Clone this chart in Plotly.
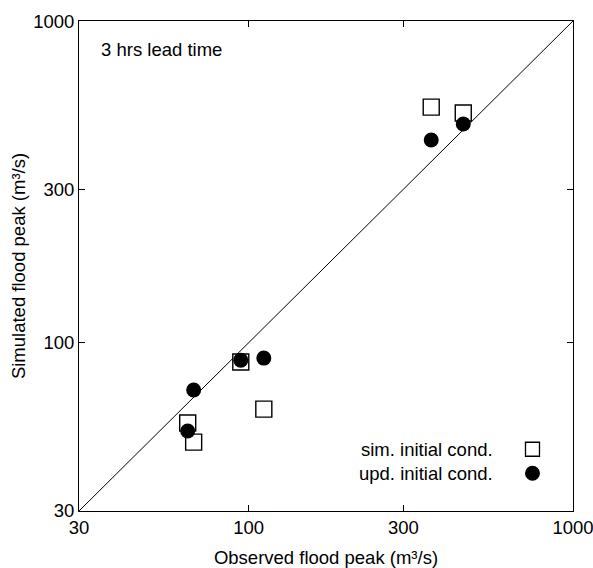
import plotly.graph_objects as go

# Observed vs simulated flood peaks (m³/s), 3 hrs lead time
observed = [365.6, 459, 94.6, 111.4, 64.9, 67.7]
sim_initial = [540, 517.6, 87.1, 62.2, 56.3, 49.1]
upd_initial = [426.7, 478.6, 88.3, 89.6, 53.2, 71.3]

axis_min, axis_max = 30, 1000
tick_vals = [30, 100, 300, 1000]
tick_text = ["30", "100", "300", "1000"]

FONT = "Liberation Sans, Arial, sans-serif"
FS = 18.5

fig = go.Figure()

# 1:1 reference line
fig.add_trace(go.Scatter(
    x=[axis_min, axis_max], y=[axis_min, axis_max], mode="lines",
    line=dict(color="black", width=1), showlegend=False, hoverinfo="skip"))

fig.add_trace(go.Scatter(
    x=observed, y=sim_initial, mode="markers", name="sim. initial cond.",
    marker=dict(symbol="square", size=16, color="white",
                line=dict(width=1.4, color="black")),
    showlegend=False))

fig.add_trace(go.Scatter(
    x=observed, y=upd_initial, mode="markers", name="upd. initial cond.",
    marker=dict(symbol="circle", size=15, color="black"),
    showlegend=False))

axis_common = dict(
    type="log", range=[1.4771, 3.0001], tickvals=tick_vals, ticktext=tick_text,
    ticks="inside", ticklen=6, tickcolor="black", mirror="ticks",
    showline=True, linecolor="black", linewidth=1, showgrid=False,
    zeroline=False, automargin=False, ticklabeloverflow="allow",
    tickfont=dict(family=FONT, size=FS, color="black"),
)

fig.update_xaxes(**axis_common,
                 title=dict(text="Observed flood peak (m³/s)",
                            font=dict(family=FONT, size=FS, color="black"),
                            standoff=14))
fig.update_yaxes(**axis_common,
                 title=dict(text="Simulated flood peak (m³/s)",
                            font=dict(family=FONT, size=FS, color="black"),
                            standoff=2))

# Inside-plot label
fig.add_annotation(x=0.040, y=0.941, xref="paper", yref="paper",
                   text="3 hrs lead time", showarrow=False,
                   xanchor="left", yanchor="middle",
                   font=dict(family=FONT, size=FS, color="black"))

# Legend drawn at lower right, glyphs to the right of the labels
legend_rows = [("sim. initial cond.", 0.126), ("upd. initial cond.", 0.077)]
for label, ypos in legend_rows:
    fig.add_annotation(x=0.842, y=ypos, xref="paper", yref="paper",
                       text=label, showarrow=False, xanchor="right",
                       yanchor="middle",
                       font=dict(family=FONT, size=FS, color="black"))

gx = 0.918
fig.add_shape(type="rect", xref="paper", yref="paper",
              xsizemode="pixel", ysizemode="pixel",
              xanchor=gx, yanchor=legend_rows[0][1],
              x0=-7, x1=7, y0=-7, y1=7,
              line=dict(color="black", width=1.3), fillcolor="white")
fig.add_shape(type="circle", xref="paper", yref="paper",
              xsizemode="pixel", ysizemode="pixel",
              xanchor=gx, yanchor=legend_rows[1][1],
              x0=-7.5, x1=7.5, y0=-7.5, y1=7.5,
              line=dict(color="black", width=0), fillcolor="black")

fig.update_layout(
    width=593, height=568,
    margin=dict(l=79, r=20, t=21, b=57),
    paper_bgcolor="white", plot_bgcolor="white",
    font=dict(family=FONT, color="black"),
)

fig.write_html("out.html")
